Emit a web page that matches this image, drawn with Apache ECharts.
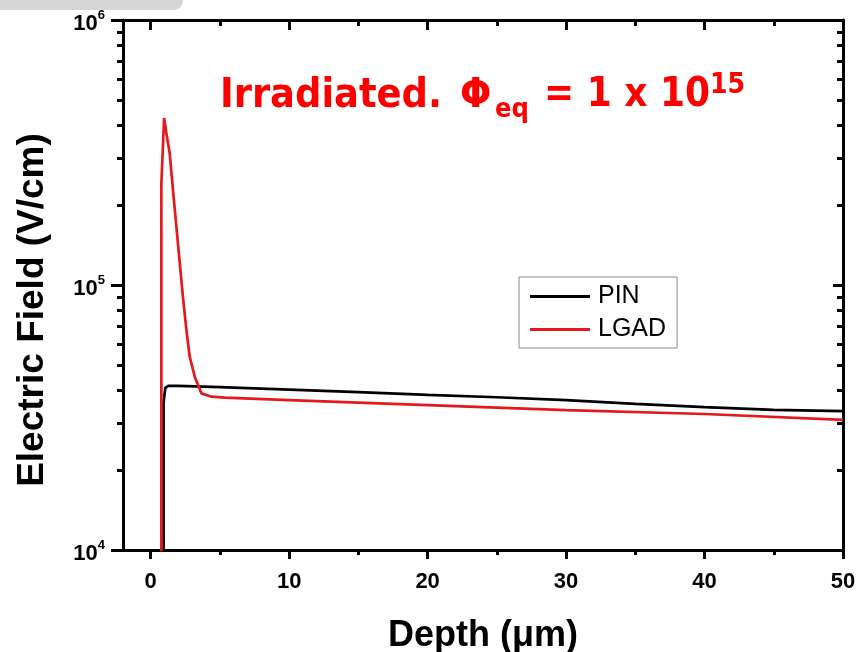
<!DOCTYPE html>
<html>
<head>
<meta charset="utf-8">
<script src="https://cdn.jsdelivr.net/npm/echarts@6/dist/echarts.min.js"></script>
<style>
  html, body { margin: 0; padding: 0; background: #ffffff; }
  #chart { width: 859px; height: 652px; }
</style>
</head>
<body>
<div id="chart"></div>
<script>
// Electric field profile versus depth for an irradiated PIN diode and LGAD.
const pinDepth  = [0.93, 0.93, 1.05, 1.25, 2, 5, 10, 15, 20, 25, 30, 35, 40, 45, 50];
const pinField  = [3000, 36000, 40800, 41600, 41600, 41200, 40300, 39400, 38500, 37700, 36800, 35600, 34600, 33800, 33400];

const lgadDepth = [0.77, 0.77, 0.97, 1.13, 1.37, 1.61, 1.86, 2.10, 2.33, 2.58, 2.82, 3.18, 3.66, 4.39, 5.35, 10, 20, 30, 40, 50];
const lgadField = [3000, 240000, 427000, 375000, 315000, 228000, 165000, 121000, 90000, 67600, 53600, 45100, 39000, 37900, 37600, 36800, 35200, 33700, 32600, 31000];

const xMajorTicks = [0, 10, 20, 30, 40, 50];
const xMinorTicks = [5, 15, 25, 35, 45];
const yMajorTicks = [1e4, 1e5, 1e6];
const yMinorTicks = [2e4, 3e4, 4e4, 5e4, 6e4, 7e4, 8e4, 9e4, 2e5, 3e5, 4e5, 5e5, 6e5, 7e5, 8e5, 9e5];

const seriesNames = ['PIN', 'LGAD'];
const titleParts = ['Irradiated.', 'Φ', 'eq', '= 1 x 10', '15'];

const zip = (xs, ys) => xs.map((x, i) => [x, ys[i]]);

const AXIS_W = 3;
const X_MIN = -2, X_MAX = 50;
const Y_MIN = 1e4, Y_MAX = 1e6;
const SANS = 'Liberation Sans, Arial, sans-serif';

function xAxisDef(position, ticks, len, inside, withLine, withLabels) {
  return {
    type: 'value', position: position, offset: 0,
    min: X_MIN, max: X_MAX,
    axisLine: { show: withLine, onZero: false, lineStyle: { color: '#000', width: AXIS_W } },
    axisTick: { show: true, inside: inside, length: len, customValues: ticks,
                lineStyle: { color: '#000', width: AXIS_W } },
    axisLabel: withLabels ? {
      show: true, customValues: xMajorTicks, margin: 21,
      color: '#000', fontSize: 22, fontWeight: 'bold', fontFamily: SANS
    } : { show: false },
    splitLine: { show: false }
  };
}

function yAxisDef(position, ticks, len, inside, withLine, withLabels) {
  return {
    type: 'log', logBase: 10, position: position, offset: 0,
    min: Y_MIN, max: Y_MAX,
    axisLine: { show: withLine, onZero: false, lineStyle: { color: '#000', width: AXIS_W } },
    axisTick: { show: true, inside: inside, length: len, customValues: ticks,
                lineStyle: { color: '#000', width: AXIS_W } },
    axisLabel: withLabels ? {
      show: true, customValues: yMajorTicks, margin: 18,
      formatter: v => '{b|10}{s|' + Math.round(Math.log10(v)) + '}',
      rich: {
        b: { fontSize: 22, fontWeight: 'bold', color: '#000', fontFamily: SANS,
             lineHeight: 22, padding: [8, 0, 0, 0] },
        s: { fontSize: 13, fontWeight: 'bold', color: '#000', fontFamily: SANS,
             verticalAlign: 'top', lineHeight: 13 }
      }
    } : { show: false },
    splitLine: { show: false },
    minorTick: { show: false }
  };
}

const chart = echarts.init(document.getElementById('chart'), null, { renderer: 'canvas' });

const xAxes = [
  xAxisDef('bottom', xMajorTicks, 9, false, true, true),
  xAxisDef('bottom', xMinorTicks, 5, false, false, false),
  xAxisDef('top', xMajorTicks, 10, true, true, false),
  xAxisDef('top', xMinorTicks, 6, true, false, false)
];
xAxes[0].name = 'Depth (μm)';
xAxes[0].nameLocation = 'middle';
xAxes[0].nameGap = 68;
xAxes[0].nameTextStyle = { fontSize: 36, fontWeight: 'bold', color: '#000', fontFamily: SANS };

const yAxes = [
  yAxisDef('left', yMajorTicks, 12, false, true, true),
  yAxisDef('left', yMinorTicks, 6, false, false, false),
  yAxisDef('right', yMajorTicks, 10, true, true, false),
  yAxisDef('right', yMinorTicks, 6, true, false, false)
];
yAxes[0].name = 'Electric Field (V/cm)';
yAxes[0].nameLocation = 'middle';
yAxes[0].nameRotate = 90;
yAxes[0].nameGap = 72;
yAxes[0].nameTextStyle = { fontSize: 37, fontWeight: 'bold', color: '#000', fontFamily: SANS,
                           padding: [0, 50, 0, 0] };

const titleFont = 'DejaVu Sans Condensed, DejaVu Sans, sans-serif';
const titleRed = '#ff0000';
function titleText(str, x, y, size) {
  return {
    type: 'text', left: x, top: y, z: 100,
    style: { text: str, fill: titleRed, font: 'bold ' + size + 'px ' + titleFont }
  };
}

chart.setOption({
  animation: false,
  backgroundColor: '#ffffff',
  grid: { left: 123, right: 16, top: 20, bottom: 102, containLabel: false, outerBoundsMode: 'none' },
  legend: {
    orient: 'vertical', left: 519, top: 277,
    data: seriesNames,
    icon: 'rect',
    itemWidth: 60, itemHeight: 3, itemGap: 8,
    padding: [7, 11, 6, 11],
    borderColor: '#8a8a8a', borderWidth: 1, backgroundColor: '#fff',
    textStyle: { fontSize: 25, color: '#000', fontFamily: SANS, lineHeight: 25, padding: [0, 0, 0, 3] }
  },
  xAxis: xAxes,
  yAxis: yAxes,
  series: [
    {
      name: seriesNames[0], type: 'line', xAxisIndex: 0, yAxisIndex: 0,
      data: zip(pinDepth, pinField), symbol: 'none', smooth: false, clip: true,
      lineStyle: { color: '#000000', width: 2.7 }, itemStyle: { color: '#000000' }
    },
    {
      name: seriesNames[1], type: 'line', xAxisIndex: 0, yAxisIndex: 0,
      data: zip(lgadDepth, lgadField), symbol: 'none', smooth: false, clip: true,
      lineStyle: { color: '#e3191c', width: 2.7 }, itemStyle: { color: '#e3191c' }
    }
  ],
  graphic: [
    {
      type: 'rect', left: 0, top: 0, z: 100,
      shape: { width: 183, height: 10, r: [0, 0, 9, 0] },
      style: { fill: '#d6d6d6' }
    },
    titleText(titleParts[0], 220, 76, 41),
    titleText(titleParts[1], 460, 76, 41),
    titleText(titleParts[2], 495, 96, 27),
    titleText(titleParts[3], 544, 76, 40),
    titleText(titleParts[4], 710, 72, 28)
  ]
});
</script>
</body>
</html>
